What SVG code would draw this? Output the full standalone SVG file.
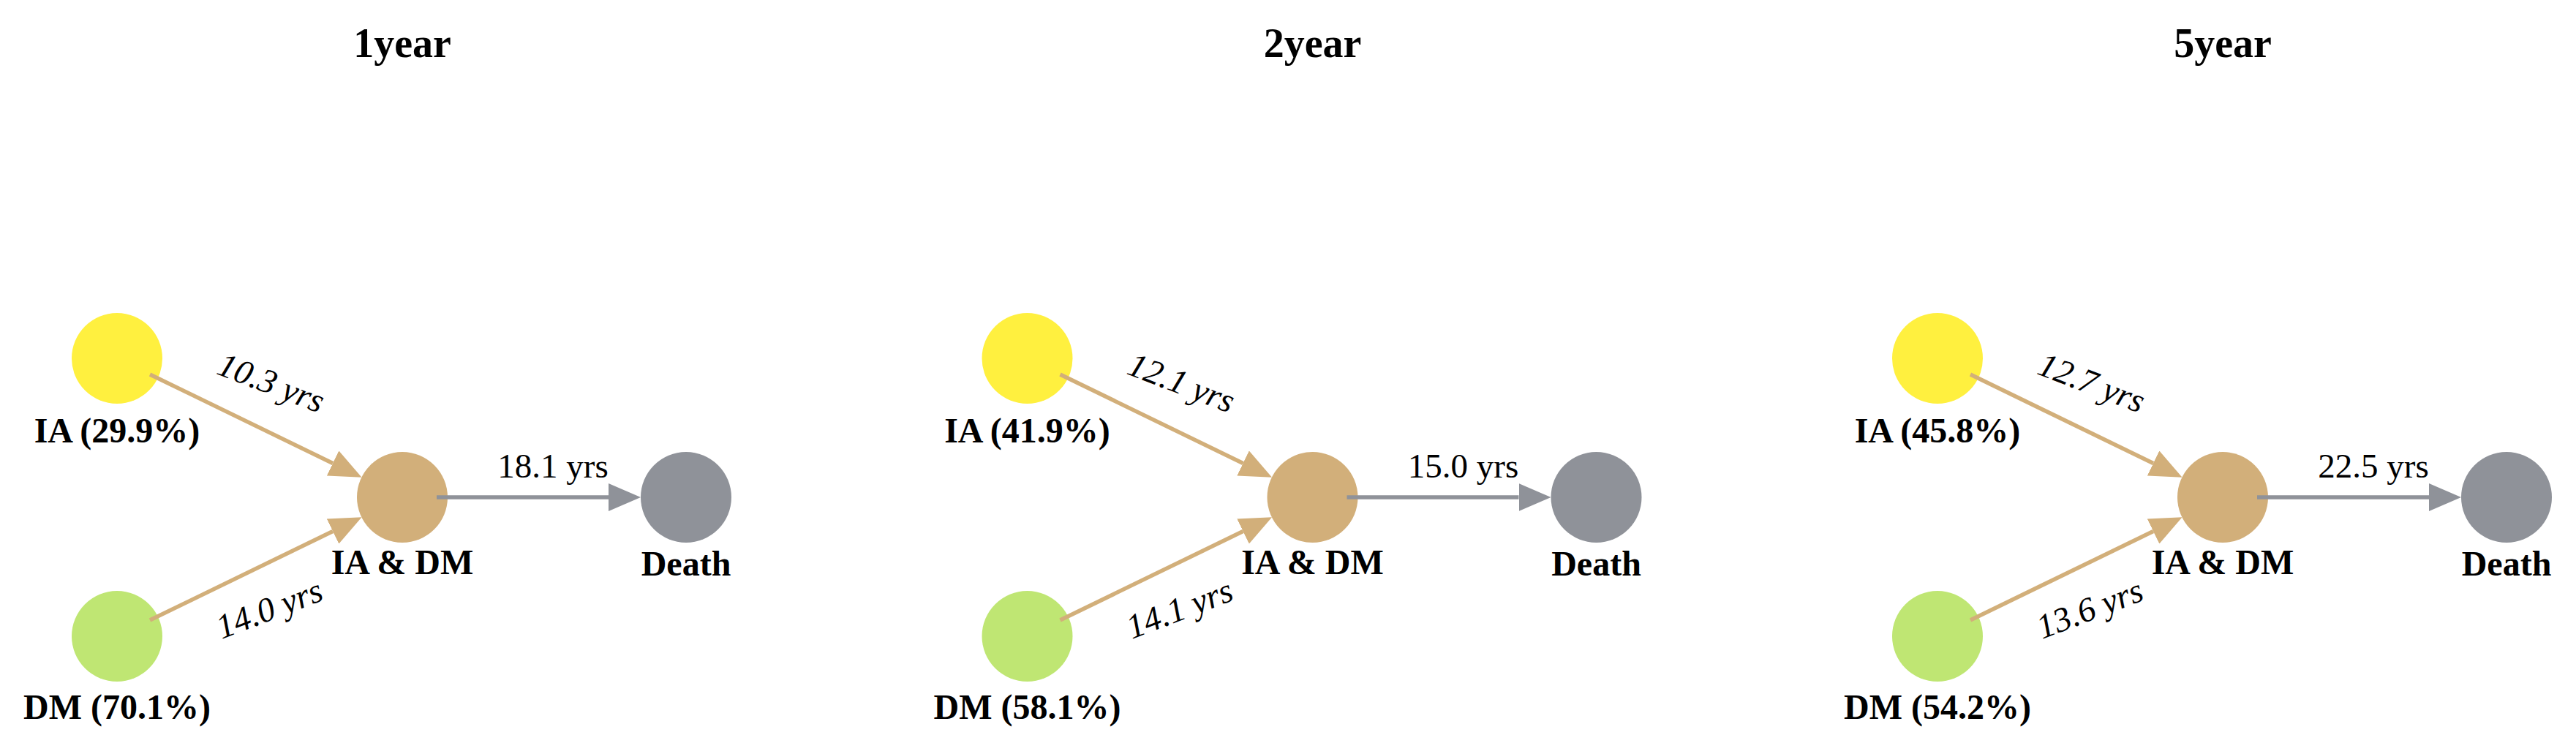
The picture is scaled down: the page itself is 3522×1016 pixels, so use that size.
<svg xmlns="http://www.w3.org/2000/svg" width="3522" height="1016" viewBox="0 0 3522 1016">
<defs>
<style>
.title{font-family:"Liberation Serif",serif;font-weight:bold;font-size:56px;fill:#000;text-anchor:middle}
.nlab{font-family:"Liberation Serif",serif;font-weight:bold;font-size:48px;fill:#000;text-anchor:middle}
.elab{font-family:"Liberation Serif",serif;font-size:47px;fill:#000;text-anchor:middle}
.elab-i{font-family:"Liberation Serif",serif;font-style:italic;font-size:47px;fill:#000;text-anchor:middle}
.ia{fill:#FFF03F}
.dm{fill:#BFE673}
.both{fill:#D2AF7A}
.death{fill:#8F9299}
.e-tan{stroke:#D2AF7A;stroke-width:5.5;fill:none;marker-end:url(#arrow-tan)}
.e-gray{stroke:#8F9299;stroke-width:5.5;fill:none;marker-end:url(#arrow-gray)}
</style>
<marker id="arrow-tan" markerUnits="userSpaceOnUse" viewBox="0 -19 44 38" markerWidth="44" markerHeight="38" refX="0" refY="0" orient="auto"><path d="M0,-19 L44,0 L0,19 Z" fill="#D2AF7A"/></marker>
<marker id="arrow-gray" markerUnits="userSpaceOnUse" viewBox="0 -19 44 38" markerWidth="44" markerHeight="38" refX="0" refY="0" orient="auto"><path d="M0,-19 L44,0 L0,19 Z" fill="#8F9299"/></marker>
</defs>
<rect width="3522" height="1016" fill="#fff"/>

<g id="panel-1year">
<text class="title" x="550" y="78">1year</text>
<g id="p1-IA"><circle class="ia" cx="160" cy="490" r="62"/><text class="nlab" x="160" y="605">IA (29.9%)</text></g>
<g id="p1-DM"><circle class="dm" cx="160" cy="870" r="62"/><text class="nlab" x="160" y="983">DM (70.1%)</text></g>
<g id="p1-IADM"><circle class="both" cx="550" cy="680" r="62"/><text class="nlab" x="550" y="785">IA &amp; DM</text></g>
<g id="p1-Death"><circle class="death" cx="938" cy="680" r="62"/><text class="nlab" x="938" y="787">Death</text></g>
<g id="p1-connectors">
<line class="e-tan" x1="205" y1="512" x2="455" y2="633.5"/>
<line class="e-tan" x1="205" y1="848" x2="455" y2="726.5"/>
<line class="e-gray" x1="597" y1="680" x2="832" y2="680"/>
<text class="elab-i" transform="translate(371,523) rotate(21)" y="16">10.3 yrs</text>
<text class="elab-i" transform="translate(368,832) rotate(-21)" y="16">14.0 yrs</text>
<text class="elab" x="756" y="653">18.1 yrs</text>
</g>
</g>

<g id="panel-2year" transform="translate(1244.5,0)">
<text class="title" x="550" y="78">2year</text>
<g id="p2-IA"><circle class="ia" cx="160" cy="490" r="62"/><text class="nlab" x="160" y="605">IA (41.9%)</text></g>
<g id="p2-DM"><circle class="dm" cx="160" cy="870" r="62"/><text class="nlab" x="160" y="983">DM (58.1%)</text></g>
<g id="p2-IADM"><circle class="both" cx="550" cy="680" r="62"/><text class="nlab" x="550" y="785">IA &amp; DM</text></g>
<g id="p2-Death"><circle class="death" cx="938" cy="680" r="62"/><text class="nlab" x="938" y="787">Death</text></g>
<g id="p2-connectors">
<line class="e-tan" x1="205" y1="512" x2="455" y2="633.5"/>
<line class="e-tan" x1="205" y1="848" x2="455" y2="726.5"/>
<line class="e-gray" x1="597" y1="680" x2="832" y2="680"/>
<text class="elab-i" transform="translate(371,523) rotate(21)" y="16">12.1 yrs</text>
<text class="elab-i" transform="translate(368,832) rotate(-21)" y="16">14.1 yrs</text>
<text class="elab" x="756" y="653">15.0 yrs</text>
</g>
</g>

<g id="panel-5year" transform="translate(2489,0)">
<text class="title" x="550" y="78">5year</text>
<g id="p3-IA"><circle class="ia" cx="160" cy="490" r="62"/><text class="nlab" x="160" y="605">IA (45.8%)</text></g>
<g id="p3-DM"><circle class="dm" cx="160" cy="870" r="62"/><text class="nlab" x="160" y="983">DM (54.2%)</text></g>
<g id="p3-IADM"><circle class="both" cx="550" cy="680" r="62"/><text class="nlab" x="550" y="785">IA &amp; DM</text></g>
<g id="p3-Death"><circle class="death" cx="938" cy="680" r="62"/><text class="nlab" x="938" y="787">Death</text></g>
<g id="p3-connectors">
<line class="e-tan" x1="205" y1="512" x2="455" y2="633.5"/>
<line class="e-tan" x1="205" y1="848" x2="455" y2="726.5"/>
<line class="e-gray" x1="597" y1="680" x2="832" y2="680"/>
<text class="elab-i" transform="translate(371,523) rotate(21)" y="16">12.7 yrs</text>
<text class="elab-i" transform="translate(368,832) rotate(-21)" y="16">13.6 yrs</text>
<text class="elab" x="756" y="653">22.5 yrs</text>
</g>
</g>
</svg>
